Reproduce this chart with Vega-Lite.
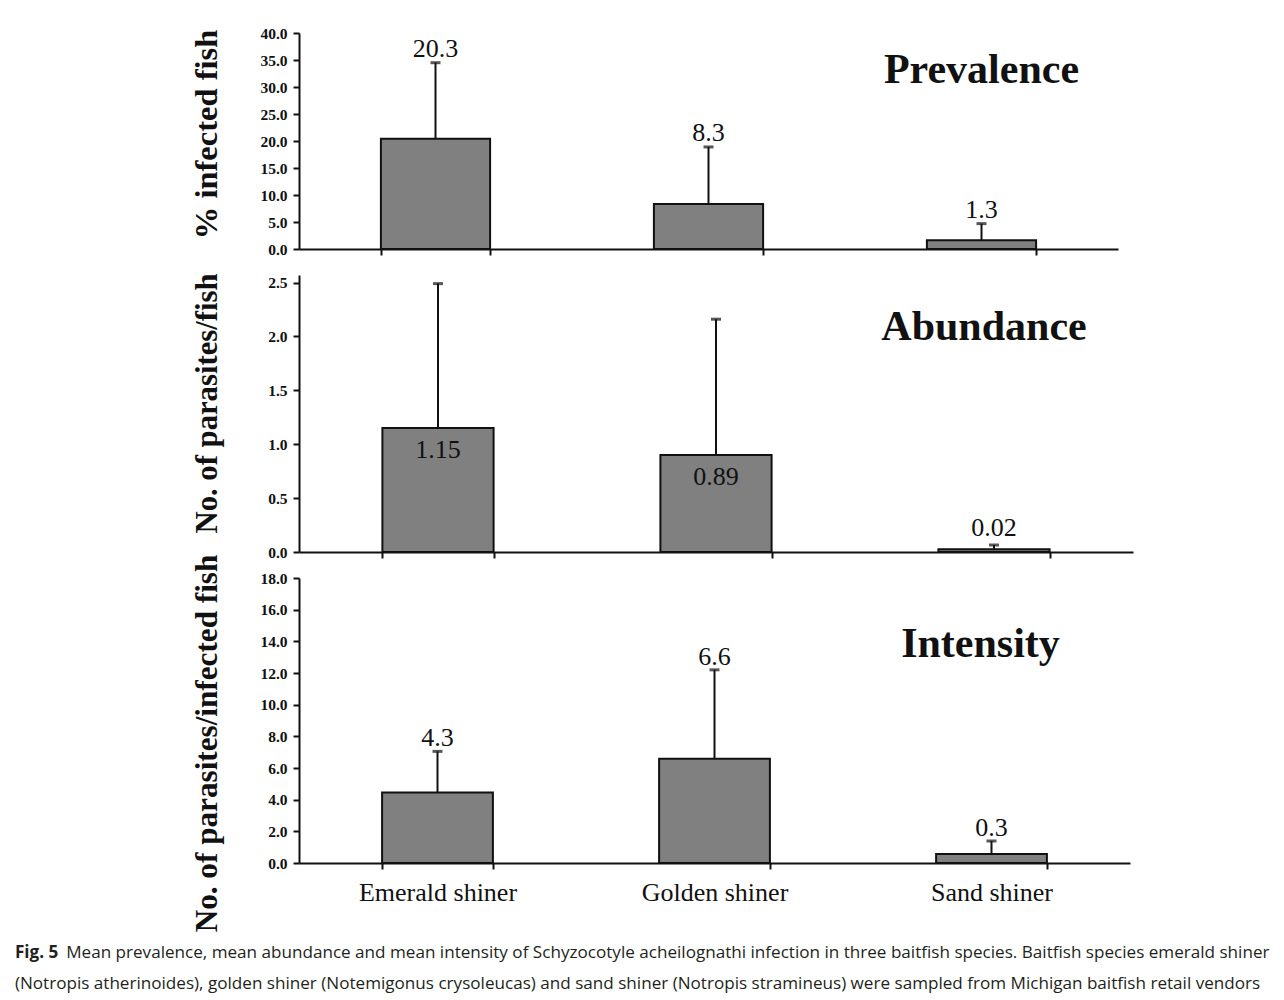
{
  "$schema": "https://vega.github.io/schema/vega-lite/v6.json",
  "background": "white",
  "padding": {"left": 14, "top": 26, "right": 20, "bottom": 10},
  "datasets": {
    "fish": [
      {"panel": "Prevalence", "species": "Emerald shiner", "mean": 20.4, "upper": 34.5, "label": "20.3"},
      {"panel": "Prevalence", "species": "Golden shiner", "mean": 8.35, "upper": 18.9, "label": "8.3"},
      {"panel": "Prevalence", "species": "Sand shiner", "mean": 1.6, "upper": 4.7, "label": "1.3"},
      {"panel": "Abundance", "species": "Emerald shiner", "mean": 1.15, "upper": 2.49, "label": "1.15"},
      {"panel": "Abundance", "species": "Golden shiner", "mean": 0.9, "upper": 2.16, "label": "0.89"},
      {"panel": "Abundance", "species": "Sand shiner", "mean": 0.025, "upper": 0.065, "label": "0.02"},
      {"panel": "Intensity", "species": "Emerald shiner", "mean": 4.46, "upper": 7.05, "label": "4.3"},
      {"panel": "Intensity", "species": "Golden shiner", "mean": 6.59, "upper": 12.2, "label": "6.6"},
      {"panel": "Intensity", "species": "Sand shiner", "mean": 0.57, "upper": 1.39, "label": "0.3"}
    ]
  },
  "title": {
    "text": "Fig. 5",
    "subtitle": [
      "\u200b\u2003\u2003\u2003Mean prevalence, mean abundance and mean intensity of Schyzocotyle acheilognathi infection in three baitfish species. Baitfish species emerald shiner",
      "(Notropis atherinoides), golden shiner (Notemigonus crysoleucas) and sand shiner (Notropis stramineus) were sampled from Michigan baitfish retail vendors"
    ],
    "orient": "bottom",
    "anchor": "start",
    "frame": "bounds",
    "offset": 12,
    "dx": -176,
    "font": "Open Sans",
    "fontSize": 17.1,
    "fontWeight": "bold",
    "color": "#231f20",
    "subtitleFont": "Open Sans",
    "subtitleFontSize": 17.1,
    "subtitleColor": "#231f20",
    "subtitleLineHeight": 31,
    "subtitlePadding": -17
  },
  "config": {
    "view": {"stroke": null},
    "axis": {
      "domainColor": "#111111",
      "domainWidth": 2,
      "tickColor": "#111111",
      "tickWidth": 2,
      "tickSize": 6,
      "grid": false,
      "labelOverlap": false,
      "labelFont": "Liberation Serif",
      "labelFontWeight": "bold",
      "labelFontSize": 15.5,
      "labelColor": "#111111",
      "titleFont": "Liberation Serif",
      "titleFontSize": 29,
      "titleFontWeight": "bold",
      "titleColor": "#111111"
    }
  },
  "vconcat": [
    {
      "width": 819,
      "height": 216,
      "data": {"name": "fish"},
      "transform": [{"filter": "datum.panel == 'Prevalence'"}],
      "encoding": {
        "x": {"field": "species", "type": "nominal", "sort": null,
          "scale": {"paddingInner": 0.6, "paddingOuter": 0.3},
          "axis": {"title": null, "labels": false, "tickBand": "extent", "labelAngle": 0}}
      },
      "layer": [
        {"mark": {"type": "rule", "color": "#111111", "strokeWidth": 2},
         "encoding": {"y": {"field": "mean", "type": "quantitative",
           "scale": {"domain": [0, 40], "nice": false},
           "axis": {"title": "% infected fish", "values": [0, 5, 10, 15, 20, 25, 30, 35, 40], "tickCount": 30, "labelOverlap": false, "format": ".1f", "labelPadding": 6, "titlePadding": 36, "titleFontSize": 32.5, "titleY": 101}},
           "y2": {"field": "upper"}}},
        {"mark": {"type": "tick", "color": "#111111", "thickness": 3, "size": 10},
         "encoding": {"y": {"field": "upper", "type": "quantitative"}}},
        {"mark": {"type": "bar", "fill": "#808080", "stroke": "#111111", "strokeWidth": 2},
         "encoding": {"y": {"field": "mean", "type": "quantitative"}}},
        {"mark": {"type": "text", "font": "Liberation Serif", "fontSize": 26, "color": "#111111", "baseline": "alphabetic", "dy": -6},
         "encoding": {"y": {"field": "upper", "type": "quantitative"}, "text": {"field": "label"}}},
        {"data": {"values": [{"title": "Prevalence"}]},
         "mark": {"type": "text", "font": "Liberation Serif", "fontSize": 42, "fontWeight": "bold", "color": "#111111", "baseline": "middle"},
         "encoding": {"x": {"datum": "Sand shiner"}, "y": {"datum": 33.2}, "text": {"field": "title"}}}
      ]
    },
    {
      "width": 834,
      "height": 277,
      "data": {"name": "fish"},
      "transform": [{"filter": "datum.panel == 'Abundance'"}],
      "encoding": {
        "x": {"field": "species", "type": "nominal", "sort": null,
          "scale": {"paddingInner": 0.6, "paddingOuter": 0.3},
          "axis": {"title": null, "labels": false, "tickBand": "extent", "labelAngle": 0}}
      },
      "layer": [
        {"mark": {"type": "rule", "color": "#111111", "strokeWidth": 2},
         "encoding": {"y": {"field": "mean", "type": "quantitative",
           "scale": {"domain": [0, 2.57], "nice": false},
           "axis": {"title": "No. of parasites/fish", "values": [0, 0.5, 1, 1.5, 2, 2.5], "tickCount": 30, "labelOverlap": false, "format": ".1f", "labelPadding": 6, "titlePadding": 45, "titleFontSize": 30.7, "titleY": 128}},
           "y2": {"field": "upper"}}},
        {"mark": {"type": "tick", "color": "#111111", "thickness": 3, "size": 10},
         "encoding": {"y": {"field": "upper", "type": "quantitative"}}},
        {"mark": {"type": "bar", "fill": "#808080", "stroke": "#111111", "strokeWidth": 2},
         "encoding": {"y": {"field": "mean", "type": "quantitative"}}},
        {"transform": [{"filter": "datum.species != 'Sand shiner'"}],
         "mark": {"type": "text", "font": "Liberation Serif", "fontSize": 26, "color": "#111111", "baseline": "alphabetic", "dy": 30},
         "encoding": {"y": {"field": "mean", "type": "quantitative"}, "text": {"field": "label"}}},
        {"transform": [{"filter": "datum.species == 'Sand shiner'"}],
         "mark": {"type": "text", "font": "Liberation Serif", "fontSize": 26, "color": "#111111", "baseline": "alphabetic", "dy": -9},
         "encoding": {"y": {"field": "upper", "type": "quantitative"}, "text": {"field": "label"}}},
        {"data": {"values": [{"title": "Abundance"}]},
         "mark": {"type": "text", "font": "Liberation Serif", "fontSize": 42, "fontWeight": "bold", "color": "#111111", "baseline": "middle", "dx": -10},
         "encoding": {"x": {"datum": "Sand shiner"}, "y": {"datum": 2.09}, "text": {"field": "title"}}}
      ]
    },
    {
      "width": 831,
      "height": 285,
      "data": {"name": "fish"},
      "transform": [{"filter": "datum.panel == 'Intensity'"}],
      "encoding": {
        "x": {"field": "species", "type": "nominal", "sort": null,
          "scale": {"paddingInner": 0.6, "paddingOuter": 0.3},
          "axis": {"title": null, "tickBand": "extent", "labelAngle": 0, "labelFontSize": 26, "labelFontWeight": "normal", "labelPadding": 10}}
      },
      "layer": [
        {"mark": {"type": "rule", "color": "#111111", "strokeWidth": 2},
         "encoding": {"y": {"field": "mean", "type": "quantitative",
           "scale": {"domain": [0, 18], "nice": false},
           "axis": {"title": "No. of parasites/infected fish", "values": [0, 2, 4, 6, 8, 10, 12, 14, 16, 18], "tickCount": 30, "labelOverlap": false, "format": ".1f", "labelPadding": 6, "titlePadding": 36, "titleFontSize": 31.2, "titleY": 165}},
           "y2": {"field": "upper"}}},
        {"mark": {"type": "tick", "color": "#111111", "thickness": 3, "size": 10},
         "encoding": {"y": {"field": "upper", "type": "quantitative"}}},
        {"mark": {"type": "bar", "fill": "#808080", "stroke": "#111111", "strokeWidth": 2},
         "encoding": {"y": {"field": "mean", "type": "quantitative"}}},
        {"mark": {"type": "text", "font": "Liberation Serif", "fontSize": 26, "color": "#111111", "baseline": "alphabetic", "dy": -5},
         "encoding": {"y": {"field": "upper", "type": "quantitative"}, "text": {"field": "label"}}},
        {"data": {"values": [{"title": "Intensity"}]},
         "mark": {"type": "text", "font": "Liberation Serif", "fontSize": 42, "fontWeight": "bold", "color": "#111111", "baseline": "middle", "dx": -11},
         "encoding": {"x": {"datum": "Sand shiner"}, "y": {"datum": 13.85}, "text": {"field": "title"}}}
      ]
    }
  ],
  "spacing": 26,
  "bounds": "flush"
}
